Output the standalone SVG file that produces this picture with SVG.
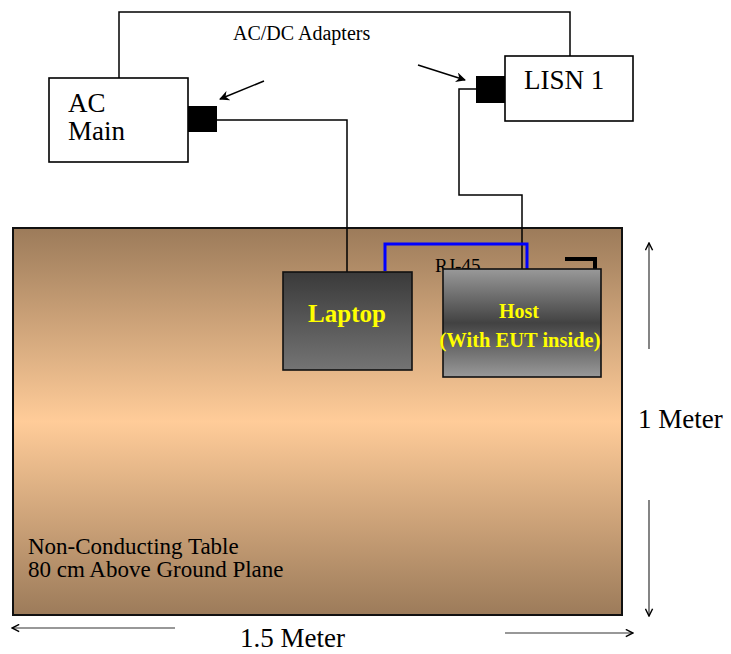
<svg xmlns="http://www.w3.org/2000/svg" width="731" height="654" viewBox="0 0 731 654">
<style>
.box{fill:#fff;stroke:#000;stroke-width:1.6}
.wire{fill:none;stroke:#000;stroke-width:1.5}
.t{font-family:"Liberation Serif","Times New Roman",serif;fill:#000}
.y{font-family:"Liberation Serif","Times New Roman",serif;font-weight:bold;fill:#ffff00;text-anchor:middle}
.dim{fill:none;stroke:#333;stroke-width:1.2}
</style>
<defs>
<linearGradient id="gTable" x1="0" y1="0" x2="0" y2="1">
<stop offset="0" stop-color="#9c7b5a"/>
<stop offset="0.5" stop-color="#ffcc99"/>
<stop offset="1" stop-color="#9c7b5a"/>
</linearGradient>
<linearGradient id="gLaptop" x1="0" y1="0" x2="0" y2="1">
<stop offset="0" stop-color="#3a3a3a"/>
<stop offset="1" stop-color="#747474"/>
</linearGradient>
<linearGradient id="gHost" x1="0" y1="0" x2="0" y2="1">
<stop offset="0" stop-color="#999"/>
<stop offset="0.5" stop-color="#424242"/>
<stop offset="1" stop-color="#999"/>
</linearGradient>
<marker id="solid" viewBox="0 0 10 10" refX="9" refY="5" markerWidth="10" markerHeight="10" markerUnits="userSpaceOnUse" orient="auto">
<path d="M0,0 L10,5 L0,10 L3,5 Z" fill="#000"/>
</marker>
<marker id="open" viewBox="0 0 10 10" refX="9" refY="5" markerWidth="9" markerHeight="9" markerUnits="userSpaceOnUse" orient="auto">
<path d="M1,1 L9,5 L1,9" fill="none" stroke="#000" stroke-width="1.6"/>
</marker>
</defs>

<g id="table">
<rect x="13" y="228" width="609" height="387" fill="url(#gTable)" stroke="#111" stroke-width="2"/>
<text class="t" x="28" y="554" font-size="23">Non-Conducting Table</text>
<text class="t" x="28" y="577" font-size="23">80 cm Above Ground Plane</text>
</g>

<g id="labels">
<text class="t" x="233" y="40" font-size="20">AC/DC Adapters</text>
<text class="t" x="435" y="272" font-size="19">RJ-45</text>
</g>

<g id="connectors">
<polyline class="wire" points="119,78 119,12 570,12 570,56"/>
<polyline class="wire" points="216,120 347,120 347,272"/>
<polyline class="wire" points="476,89 459,89 459,195 522,195 522,269"/>
<polyline points="385,271 385,244 527,244 527,269" fill="none" stroke="#0000ff" stroke-width="3"/>
<polyline points="565,259 595,259 595,269" fill="none" stroke="#000" stroke-width="4"/>
<line x1="264" y1="81" x2="220" y2="99" stroke="#000" stroke-width="1.5" marker-end="url(#solid)"/>
<line x1="418" y1="65" x2="465" y2="80" stroke="#000" stroke-width="1.5" marker-end="url(#solid)"/>
</g>

<g id="ac-main">
<rect class="box" x="49" y="78" width="139" height="84"/>
<rect x="188" y="106" width="29" height="26" fill="#000"/>
<text class="t" x="68" y="112" font-size="27">AC</text>
<text class="t" x="68" y="140" font-size="27">Main</text>
</g>

<g id="lisn">
<rect class="box" x="505" y="56" width="128" height="65"/>
<rect x="476" y="76" width="29" height="27" fill="#000"/>
<text class="t" x="524" y="89" font-size="27">LISN 1</text>
</g>

<g id="laptop">
<rect x="283" y="272" width="129" height="98" fill="url(#gLaptop)" stroke="#111" stroke-width="1.6"/>
<text class="y" x="347" y="322" font-size="25">Laptop</text>
</g>

<g id="host">
<rect x="443" y="269" width="158" height="108" fill="url(#gHost)" stroke="#111" stroke-width="1.6"/>
<text class="y" x="519" y="318" font-size="20">Host</text>
<text class="y" x="520" y="347" font-size="20.5">(With EUT inside)</text>
</g>

<g id="dimensions">
<line class="dim" x1="649" y1="349" x2="649" y2="243" marker-end="url(#open)"/>
<line class="dim" x1="649" y1="500" x2="649" y2="616" marker-end="url(#open)"/>
<line class="dim" x1="175" y1="628" x2="12" y2="628" marker-end="url(#open)"/>
<line class="dim" x1="505" y1="633" x2="633" y2="633" marker-end="url(#open)"/>
<text class="t" x="638" y="428" font-size="27">1 Meter</text>
<text class="t" x="240" y="647" font-size="27">1.5 Meter</text>
</g>
</svg>
